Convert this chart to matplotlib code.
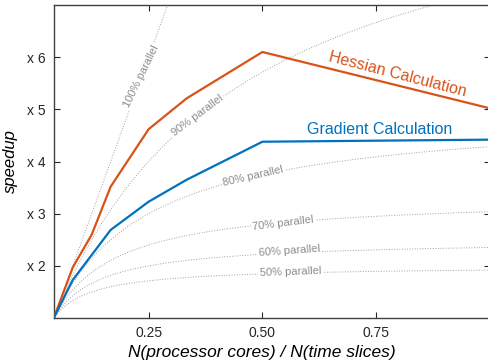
import numpy as np
import matplotlib
matplotlib.use('Agg')
import matplotlib.pyplot as plt

plt.rcParams['font.family'] = ['Liberation Sans', 'DejaVu Sans']

n_slices = 24
cores = [1, 2, 3, 4, 6, 8, 12, 24]
hessian = [1.0, 1.97, 2.6, 3.52, 4.62, 5.21, 6.1, 5.02]
gradient = [1.0, 1.73, 2.21, 2.69, 3.23, 3.65, 4.38, 4.42]

fractions = [1.0, 0.9, 0.8, 0.7, 0.6, 0.5]
# label position (x, y) and rotation for each parallel fraction
label_pos = [(0.235, 5.63, 64), (0.357, 4.88, 37), (0.48, 3.71, 13),
             (0.546, 2.81, 7), (0.559, 2.29, 4), (0.561, 1.88, 2)]

orange = '#D95319'
blue = '#0072BD'

fig = plt.figure(figsize=(4.89, 3.61), dpi=100)
ax = fig.add_axes([0.110, 0.119, 0.892, 0.867])

n = np.linspace(1, n_slices, 400)
for p, (lx, ly, rot) in zip(fractions, label_pos):
    s = 1.0 / ((1 - p) + p / n)
    ax.plot(n / n_slices, s, ':', color='#a0a0a0', lw=0.7, zorder=1)
    ax.text(lx, ly, '%d%% parallel' % round(p * 100), fontsize=8, color='#8c8c8c',
            rotation=rot, ha='center', va='center', rotation_mode='anchor',
            bbox=dict(boxstyle='square,pad=0.15', fc='white', ec='none'), zorder=2)

x = np.array(cores) / n_slices
ax.plot(x, hessian, color=orange, lw=1.6, zorder=3)
ax.plot(x, gradient, color=blue, lw=1.6, zorder=3)

ax.text(0.798, 5.67, 'Hessian Calculation', color=orange, fontsize=11.5,
        rotation=-14.5, ha='center', va='center', rotation_mode='anchor')
ax.text(0.757, 4.62, 'Gradient Calculation', color=blue, fontsize=11.5,
        ha='center', va='center')

ax.set_xlim(1 / n_slices, 1.0)
ax.set_ylim(1, 7)
ax.set_xticks([0.25, 0.5, 0.75])
ax.set_xticklabels(['0.25', '0.50', '0.75'])
ax.set_yticks([2, 3, 4, 5, 6])
ax.set_yticklabels(['x 2', 'x 3', 'x 4', 'x 5', 'x 6'])
ax.tick_params(direction='in', top=True, right=True, length=4, width=0.8,
               labelsize=10, colors='#262626', pad=6)
for side in ['left', 'bottom', 'top']:
    ax.spines[side].set_color('#404040')
    ax.spines[side].set_linewidth(1.0)
ax.spines['right'].set_visible(False)

ax.set_xlabel('N(processor cores) / N(time slices)', fontsize=12.5, style='italic',
              labelpad=2)
ax.xaxis.set_label_coords(0.476, -0.085)
ax.set_ylabel('speedup', fontsize=12, style='italic', labelpad=6)

fig.savefig('out.png', dpi=100)
